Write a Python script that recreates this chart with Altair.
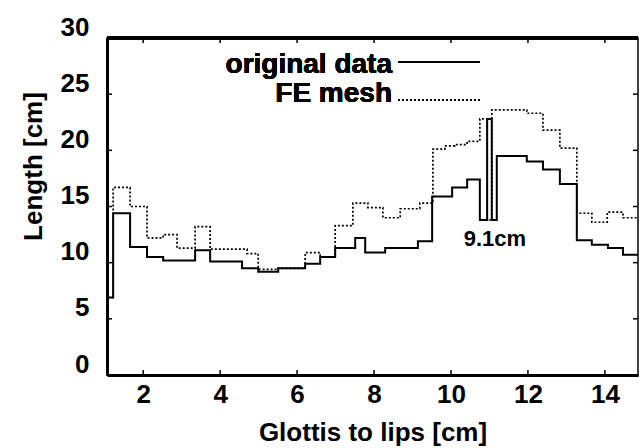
import altair as alt
import pandas as pd

# ---- data (step functions: x = start of section) ----
orig_x = [1.09, 1.22, 1.66, 2.10, 2.52, 3.35, 3.74, 4.57, 4.99, 5.51, 6.21, 6.60,
          6.99, 7.51, 7.77, 8.29, 9.14, 9.51, 10.03, 10.42, 10.75, 10.94, 11.06,
          11.19, 11.97, 12.39, 12.83, 13.27, 13.66, 14.08, 14.47, 14.90]
orig_y = [6.9, 14.4, 11.4, 10.5, 10.2, 11.1, 10.1, 9.5, 9.2, 9.5, 9.9, 10.5,
          11.3, 12.2, 10.9, 11.3, 11.9, 15.9, 16.7, 17.4, 13.8, 22.8, 13.8,
          19.5, 19.0, 18.3, 17.0, 12.0, 11.6, 11.3, 10.7, 10.7]

fe_x = [1.09, 1.22, 1.66, 2.10, 2.52, 2.88, 3.35, 3.74, 4.70, 4.99, 5.51, 6.21,
        6.60, 6.99, 7.45, 7.84, 8.23, 8.68, 9.19, 9.53, 9.84, 10.10, 10.42,
        10.75, 10.94, 11.06, 11.97, 12.39, 12.83, 13.27, 13.66, 14.06, 14.47, 14.90]
fe_y = [6.9, 16.7, 15.0, 12.2, 12.5, 11.3, 13.2, 11.2, 10.8, 9.4, 9.5, 10.9,
        10.5, 13.3, 15.3, 14.9, 14.0, 14.8, 15.3, 20.1, 20.4, 20.5, 20.8,
        22.8, 13.8, 23.6, 23.3, 21.8, 20.2, 14.4, 13.6, 14.5, 14.0, 14.0]

x_ticks = [2, 4, 6, 8, 10, 12, 14]
y_ticks = [0, 5, 10, 15, 20, 25, 30]

annot_text = ["9.1cm"]
annot_x = [11.14]
annot_y = [12.1]

legend_labels = ["original data", "FE mesh"]

# ---- layout ----
XDOM = [1.06, 14.86]
YDOM = [0, 30]
W, H = 531, 337
FONT = "Liberation Sans"

df_orig = pd.DataFrame({"x": orig_x, "y": orig_y})
df_fe = pd.DataFrame({"x": fe_x, "y": fe_y})
df_xt = pd.DataFrame({"t": x_ticks})
df_yt = pd.DataFrame({"t": y_ticks})
df_ann = pd.DataFrame({"x": annot_x, "y": annot_y, "label": annot_text})

xscale = alt.Scale(domain=XDOM, nice=False, zero=False)
yscale = alt.Scale(domain=YDOM, nice=False)

xaxis = alt.Axis(values=x_ticks, ticks=False, grid=False, labelFont=FONT,
                 labelFontSize=26, labelFontWeight="bold", labelColor="black",
                 labelPadding=6, domainWidth=3, domainColor="black",
                 title="Glottis to lips [cm]", titleFont=FONT, titleFontSize=26,
                 titleFontWeight="bold", titleColor="black",
                 titleBaseline="alphabetic", titleY=65)
yaxis = alt.Axis(values=y_ticks, ticks=False, grid=False, labelFont=FONT,
                 labelFontSize=26, labelFontWeight="bold", labelColor="black",
                 labelPadding=18, labelOffset=-11, domainWidth=3,
                 domainColor="black", title="Length [cm]", titleFont=FONT,
                 titleFontSize=26, titleFontWeight="bold", titleColor="black",
                 titleAngle=270, titleBaseline="middle", titleX=-74, titleY=128)

orig_line = alt.Chart(df_orig).mark_line(
    interpolate="step-after", color="black", strokeWidth=2, clip=True
).encode(
    x=alt.X("x:Q", scale=xscale, axis=xaxis),
    y=alt.Y("y:Q", scale=yscale, axis=yaxis),
)

fe_line = alt.Chart(df_fe).mark_line(
    interpolate="step-after", color="black", strokeWidth=1.7,
    strokeDash=[2, 2], clip=True
).encode(
    x=alt.X("x:Q", scale=xscale),
    y=alt.Y("y:Q", scale=yscale),
)

# inward ticks on all four sides
tick_b = alt.Chart(df_xt).mark_rule(color="black", strokeWidth=1.5).encode(
    x=alt.X("t:Q", scale=xscale), y=alt.value(H), y2=alt.value(H - 5))
tick_t = alt.Chart(df_xt).mark_rule(color="black", strokeWidth=1.5).encode(
    x=alt.X("t:Q", scale=xscale), y=alt.value(0), y2=alt.value(5))
tick_l = alt.Chart(df_yt).mark_rule(color="black", strokeWidth=1.5).encode(
    y=alt.Y("t:Q", scale=yscale), x=alt.value(0), x2=alt.value(5))
tick_r = alt.Chart(df_yt).mark_rule(color="black", strokeWidth=1.5).encode(
    y=alt.Y("t:Q", scale=yscale), x=alt.value(W), x2=alt.value(W - 5))

top_frame = alt.Chart(df_xt).mark_rule(color="black", strokeWidth=3.5).encode(
    x=alt.value(0), x2=alt.value(W), y=alt.value(0))

# legend
leg_text1 = alt.Chart(df_xt).mark_text(
    text=legend_labels[0], align="right", baseline="alphabetic", font=FONT,
    fontSize=28, fontWeight="bold", color="black"
).encode(x=alt.value(285), y=alt.value(35))
leg_text2 = alt.Chart(df_xt).mark_text(
    text=legend_labels[1], align="right", baseline="alphabetic", font=FONT,
    fontSize=28, fontWeight="bold", color="black"
).encode(x=alt.value(285), y=alt.value(64))
leg_line1 = alt.Chart(df_xt).mark_rule(color="black", strokeWidth=2).encode(
    x=alt.value(291), x2=alt.value(373), y=alt.value(24))
leg_line2 = alt.Chart(df_xt).mark_rule(
    color="black", strokeWidth=1.7, strokeDash=[2, 2]
).encode(x=alt.value(291), x2=alt.value(373), y=alt.value(62))

annot = alt.Chart(df_ann).mark_text(
    align="center", baseline="middle", font=FONT, fontSize=22,
    fontWeight="bold", color="black"
).encode(
    x=alt.X("x:Q", scale=xscale), y=alt.Y("y:Q", scale=yscale), text="label:N")

chart = alt.layer(
    orig_line, fe_line, tick_b, tick_t, tick_l, tick_r, top_frame,
    leg_text1, leg_text2, leg_line1, leg_line2, annot
).properties(
    width=W, height=H,
    padding={"left": 107, "top": 38, "right": 1, "bottom": 73},
    autosize=alt.AutoSizeParams(type="none"),
    background="white",
).configure_view(stroke="black", strokeWidth=1.5)

chart.save("out.html", embed_options={"renderer": "svg", "actions": False})
